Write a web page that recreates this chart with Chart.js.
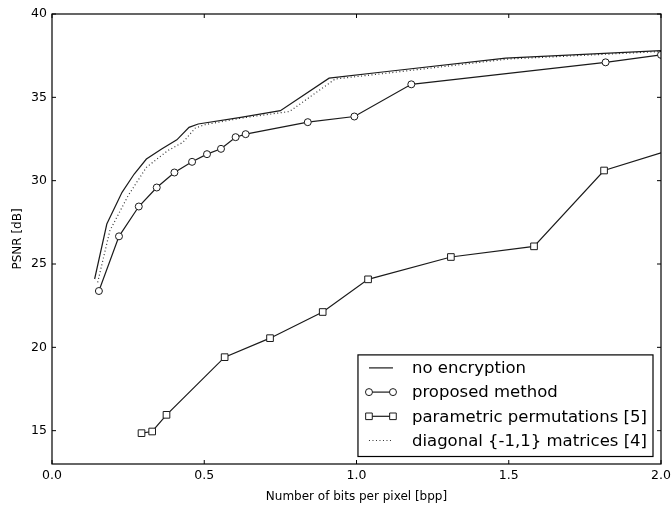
<!DOCTYPE html>
<html lang="en">
<head>
<meta charset="UTF-8">
<title>PSNR vs bits per pixel</title>
<script src="https://cdn.jsdelivr.net/npm/chart.js"></script>
<style>
  html, body { margin: 0; padding: 0; background: #fff; }
  #wrap { width: 672px; height: 506px; }
</style>
</head>
<body>
<div id="wrap"><canvas id="psnrChart" width="672" height="506"></canvas></div>
<script>
  // values
  const seriesNames = ['no encryption', 'proposed method', 'parametric permutations [5]', 'diagonal {-1,1} matrices [4]'];

  const noEncBpp  = [0.14, 0.18, 0.23, 0.27, 0.31, 0.36, 0.41, 0.45, 0.48, 0.62, 0.75, 0.91, 1.1, 1.49, 2.0];
  const noEncPsnr = [24.1, 27.4, 29.3, 30.4, 31.3, 31.9, 32.45, 33.2, 33.4, 33.8, 34.2, 36.15, 36.55, 37.35, 37.8];

  const propBpp  = [0.154, 0.22, 0.285, 0.344, 0.402, 0.46, 0.509, 0.555, 0.603, 0.636, 0.84, 0.993, 1.18, 1.818, 2.0];
  const propPsnr = [23.38, 26.66, 28.45, 29.59, 30.49, 31.13, 31.59, 31.91, 32.61, 32.79, 33.51, 33.85, 35.78, 37.1, 37.55];

  const permBpp  = [0.294, 0.329, 0.376, 0.567, 0.716, 0.889, 1.038, 1.31, 1.583, 1.813, 2.0];
  const permPsnr = [14.85, 14.95, 15.95, 19.41, 20.55, 22.12, 24.08, 25.42, 26.06, 30.61, 31.67];

  const diagBpp  = [0.15, 0.19, 0.25, 0.31, 0.38, 0.43, 0.47, 0.5, 0.62, 0.78, 0.93, 1.1, 1.5, 2.0];
  const diagPsnr = [23.9, 27.0, 29.1, 30.8, 31.8, 32.3, 33.15, 33.35, 33.75, 34.15, 36.1, 36.45, 37.3, 37.75];

  const xTickValues = [0, 0.5, 1, 1.5, 2];
  const yTickValues = [15, 20, 25, 30, 35, 40];

  const FONT = '"DejaVu Sans", sans-serif';
  const INK = '#1a1a1a';

  function toPoints(xs, ys) {
    return xs.map((x, i) => ({ x, y: ys[i] }));
  }

  // frame with inward ticks on all four sides (matplotlib look)
  const frameTicks = {
    id: 'frameTicks',
    afterDraw(chart) {
      const { ctx, chartArea: a, scales } = chart;
      ctx.save();
      ctx.strokeStyle = '#000';
      ctx.lineWidth = 1.2;
      ctx.strokeRect(a.left, a.top, a.right - a.left, a.bottom - a.top);
      ctx.lineWidth = 1;
      ctx.beginPath();
      scales.x.ticks.forEach(t => {
        const px = scales.x.getPixelForValue(t.value);
        ctx.moveTo(px, a.bottom); ctx.lineTo(px, a.bottom - 4);
        ctx.moveTo(px, a.top); ctx.lineTo(px, a.top + 4);
      });
      scales.y.ticks.forEach(t => {
        const py = scales.y.getPixelForValue(t.value);
        ctx.moveTo(a.left, py); ctx.lineTo(a.left + 4, py);
        ctx.moveTo(a.right, py); ctx.lineTo(a.right - 4, py);
      });
      ctx.stroke();
      ctx.restore();
    }
  };

  function marker(ctx, style, x, y) {
    ctx.beginPath();
    if (style === 'circle') ctx.arc(x, y, 3.5, 0, Math.PI * 2);
    else if (style === 'rect') ctx.rect(x - 3.3, y - 3.3, 6.6, 6.6);
    else return;
    ctx.fillStyle = '#fff';
    ctx.fill();
    ctx.strokeStyle = INK;
    ctx.lineWidth = 1;
    ctx.stroke();
  }

  // legend box in lower right corner of the plot
  const boxLegend = {
    id: 'boxLegend',
    afterDraw(chart) {
      const { ctx, chartArea: a } = chart;
      const sets = chart.data.datasets;
      ctx.save();
      ctx.font = '16.5px ' + FONT;
      const textW = Math.max(...sets.map(d => ctx.measureText(d.label).width));
      const rowH = 24.2;
      const w = 54 + textW + 6;
      const h = 13 + rowH * 3 + 16;
      const right = a.right - 8, bottom = a.bottom - 7.5;
      const left = right - w, top = bottom - h;
      ctx.fillStyle = '#fff';
      ctx.fillRect(left, top, w, h);
      ctx.strokeStyle = '#000';
      ctx.lineWidth = 1.2;
      ctx.strokeRect(left, top, w, h);

      sets.forEach((ds, i) => {
        const y = top + 13 + i * rowH;
        const x0 = left + 11, x1 = left + 35;
        ctx.beginPath();
        ctx.setLineDash(ds.borderDash || []);
        ctx.strokeStyle = ds.borderColor;
        ctx.lineWidth = ds.borderWidth;
        ctx.moveTo(x0, y); ctx.lineTo(x1, y);
        ctx.stroke();
        ctx.setLineDash([]);
        if (ds.legendMarker) {
          marker(ctx, ds.pointStyle, x0, y);
          marker(ctx, ds.pointStyle, x1, y);
        }
        ctx.fillStyle = '#000';
        ctx.textBaseline = 'middle';
        ctx.textAlign = 'left';
        ctx.fillText(ds.label, left + 54, y + 1);
      });
      ctx.restore();
    }
  };

  const lineBase = { borderColor: INK, borderWidth: 1.2, tension: 0, fill: false,
    pointBackgroundColor: '#fff', pointBorderColor: INK, pointBorderWidth: 1 };

  new Chart(document.getElementById('psnrChart'), {
    type: 'line',
    data: {
      datasets: [
        { ...lineBase, label: seriesNames[0], data: toPoints(noEncBpp, noEncPsnr), pointRadius: 0 },
        { ...lineBase, label: seriesNames[1], data: toPoints(propBpp, propPsnr),
          pointStyle: 'circle', pointRadius: 3.5, legendMarker: true },
        { ...lineBase, label: seriesNames[2], data: toPoints(permBpp, permPsnr),
          pointStyle: 'rect', legendMarker: true,
          pointRadius: ctx => ctx.dataIndex === permBpp.length - 1 ? 0 : 4.7 },
        { ...lineBase, label: seriesNames[3], data: toPoints(diagBpp, diagPsnr), pointRadius: 0,
          borderColor: '#333', borderDash: [1, 2.5] }
      ]
    },
    options: {
      responsive: false,
      animation: false,
      devicePixelRatio: 1,
      layout: { padding: { top: 14, right: 11, left: 0, bottom: 0 } },
      plugins: { legend: { display: false }, tooltip: { enabled: false } },
      scales: {
        x: {
          type: 'linear', min: 0, max: 2,
          afterBuildTicks: s => { s.ticks = xTickValues.map(v => ({ value: v })); },
          afterFit: s => { s.height = 42; s.paddingLeft = 0; s.paddingRight = 0; },
          grid: { display: false, drawTicks: false },
          border: { display: false },
          ticks: { callback: v => v.toFixed(1), color: '#000', font: { family: FONT, size: 12.5 },
                   padding: 4.5, maxRotation: 0, autoSkip: false },
          title: { display: true, text: 'Number of bits per pixel [bpp]', color: '#000',
                   font: { family: FONT, size: 12 }, padding: { top: 0, bottom: 2 } }
        },
        y: {
          type: 'linear', min: 13, max: 40,
          afterBuildTicks: s => { s.ticks = yTickValues.map(v => ({ value: v })); },
          afterFit: s => { s.width = 52; s.paddingTop = 0; s.paddingBottom = 0; },
          grid: { display: false, drawTicks: false },
          border: { display: false },
          ticks: { color: '#000', font: { family: FONT, size: 12.5 }, padding: 5, autoSkip: false },
          title: { display: true, text: 'PSNR [dB]', color: '#000',
                   font: { family: FONT, size: 12 }, padding: { top: 11, bottom: 0 } }
        }
      }
    },
    plugins: [frameTicks, boxLegend]
  });
</script>
</body>
</html>
